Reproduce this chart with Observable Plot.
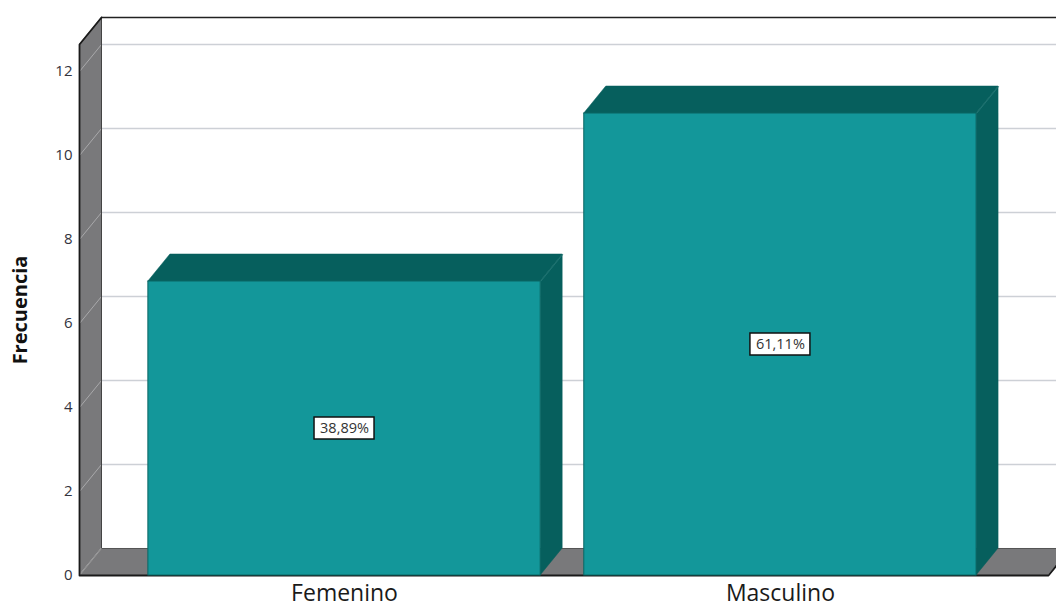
<!DOCTYPE html>
<html>
<head>
<meta charset="utf-8">
<script src="https://cdn.jsdelivr.net/npm/d3@7"></script>
<script src="https://cdn.jsdelivr.net/npm/@observablehq/plot@0.6"></script>
<style>
  html, body { margin: 0; padding: 0; background: #fff; }
  #chart svg { display: block; overflow: hidden; }
</style>
</head>
<body>
<div id="chart"></div>
<script>
// ---- data ----
const categories = ["Femenino", "Masculino"];
const counts = [7, 11];
const percentLabels = ["38,89%", "61,11%"];
const yTicks = [0, 2, 4, 6, 8, 10, 12];
const yTitle = "Frecuencia";

// ---- 3D layout (in data units) ----
const X0 = -0.608, X1 = 1.615;   // front extent of floor / left wall
const YMAX = 12.643;             // front height of the walls
const DX = 0.0505, DY = 0.643;   // depth offset
const HALF = 0.45;               // half bar width
const TITLE_X = X0 - 0.1353;     // title position left of the axis

const front = "#13979a", dark = "#065f5d", wall = "#79797b";

const bars = categories.map((c, i) => ({cat: c, i, v: counts[i], label: percentLabels[i]}));
const topFaces = bars.flatMap(b => [
  {cat: b.cat, y: b.v, x1: b.i - HALF, x2: b.i + HALF},
  {cat: b.cat, y: b.v + DY, x1: b.i - HALF + DX, x2: b.i + HALF + DX}
]);
const sideFaces = bars.flatMap(b => [
  {cat: b.cat, x: b.i + HALF, y1: 0, y2: b.v},
  {cat: b.cat, x: b.i + HALF + DX, y1: DY, y2: b.v + DY}
]);
const leftWall = [
  {x: X0, y1: 0, y2: YMAX},
  {x: X0 + DX, y1: DY, y2: YMAX + DY}
];
const floor = [
  {y: 0, x1: X0, x2: X1},
  {y: DY, x1: X0 + DX, x2: X1 + DX}
];
const leftOutline = [
  {x: X0 + DX, y: YMAX + DY}, {x: X0, y: YMAX}, {x: X0, y: 0}, {x: X1, y: 0}, {x: X1 + DX, y: DY}
];

const plot = Plot.plot({
  width: 1056,
  height: 607,
  marginLeft: 79,
  marginRight: 8,
  marginTop: 44,
  marginBottom: 32,
  style: {fontFamily: "'Open Sans', sans-serif", background: "#fff"},
  x: {domain: [X0, X1]},
  y: {domain: [0, YMAX]},
  marks: [
    // back wall gridlines
    Plot.ruleY(yTicks.slice(1), {y: d => d + DY, x1: X0 + DX, x2: X1 + 0.2, stroke: "#cdd0d6", strokeWidth: 1.5}),
    // back wall top border
    Plot.ruleY([YMAX + DY], {x1: X0 + DX, x2: X1 + 0.2, stroke: "#222", strokeWidth: 1.5}),
    // left wall
    Plot.areaY(leftWall, {x: "x", y1: "y1", y2: "y2", fill: wall, curve: "linear"}),
    Plot.link(yTicks.slice(1), {x1: X0, y1: d => d, x2: X0 + DX, y2: d => d + DY, stroke: "#a9a9ab", strokeWidth: 1}),
    Plot.ruleX([X0 + DX], {y1: DY, y2: YMAX + DY, stroke: "#444", strokeWidth: 1}),
    // floor
    Plot.areaX(floor, {y: "y", x1: "x1", x2: "x2", fill: wall, curve: "linear"}),
    Plot.ruleY([DY], {x1: X0 + DX, x2: X1 + 0.2, stroke: "#555", strokeWidth: 1}),
    Plot.link([0], {x1: X0, y1: 0, x2: X0 + DX, y2: DY, stroke: "#999", strokeWidth: 1}),
    Plot.line(leftOutline, {x: "x", y: "y", stroke: "#1a1a1a", strokeWidth: 1.8, curve: "linear"}),
    // bars: top, side, front
    Plot.areaX(topFaces, {y: "y", x1: "x1", x2: "x2", z: "cat", fill: dark, stroke: dark, strokeWidth: 0.5, curve: "linear"}),
    Plot.areaY(sideFaces, {x: "x", y1: "y1", y2: "y2", z: "cat", fill: dark, stroke: dark, strokeWidth: 0.5, curve: "linear"}),
    Plot.link(bars, {x1: d => d.i + HALF, y1: "v", x2: d => d.i + HALF + DX, y2: d => d.v + DY, stroke: "#1f7573", strokeWidth: 1}),
    Plot.rect(bars, {x1: d => d.i - HALF, x2: d => d.i + HALF, y1: 0, y2: "v", fill: front, stroke: "#0b6664", strokeWidth: 1}),
    // percentage labels
    Plot.rect(bars, {x1: "i", x2: "i", y1: d => d.v / 2, y2: d => d.v / 2,
      insetLeft: -30, insetRight: -30, insetTop: -11, insetBottom: -11,
      fill: "#fff", stroke: "#111", strokeWidth: 1.5}),
    Plot.text(bars, {x: "i", y: d => d.v / 2, text: "label", fontSize: 14.5, fill: "#333"}),
    // axes
    Plot.axisY({ticks: yTicks, tickSize: 0, tickPadding: 7, fontSize: 15, label: null, fill: "#33333d"}),
    Plot.axisX({ticks: [0, 1], tickFormat: i => categories[i], tickSize: 0, tickPadding: 9, fontSize: 23, label: null, fill: "#1a1a1a"}),
    Plot.text([yTitle], {x: TITLE_X, y: YMAX / 2, rotate: -90, fontSize: 20, fontWeight: "bold", fill: "#111"})
  ]
});
document.getElementById("chart").appendChild(plot);
</script>
</body>
</html>
